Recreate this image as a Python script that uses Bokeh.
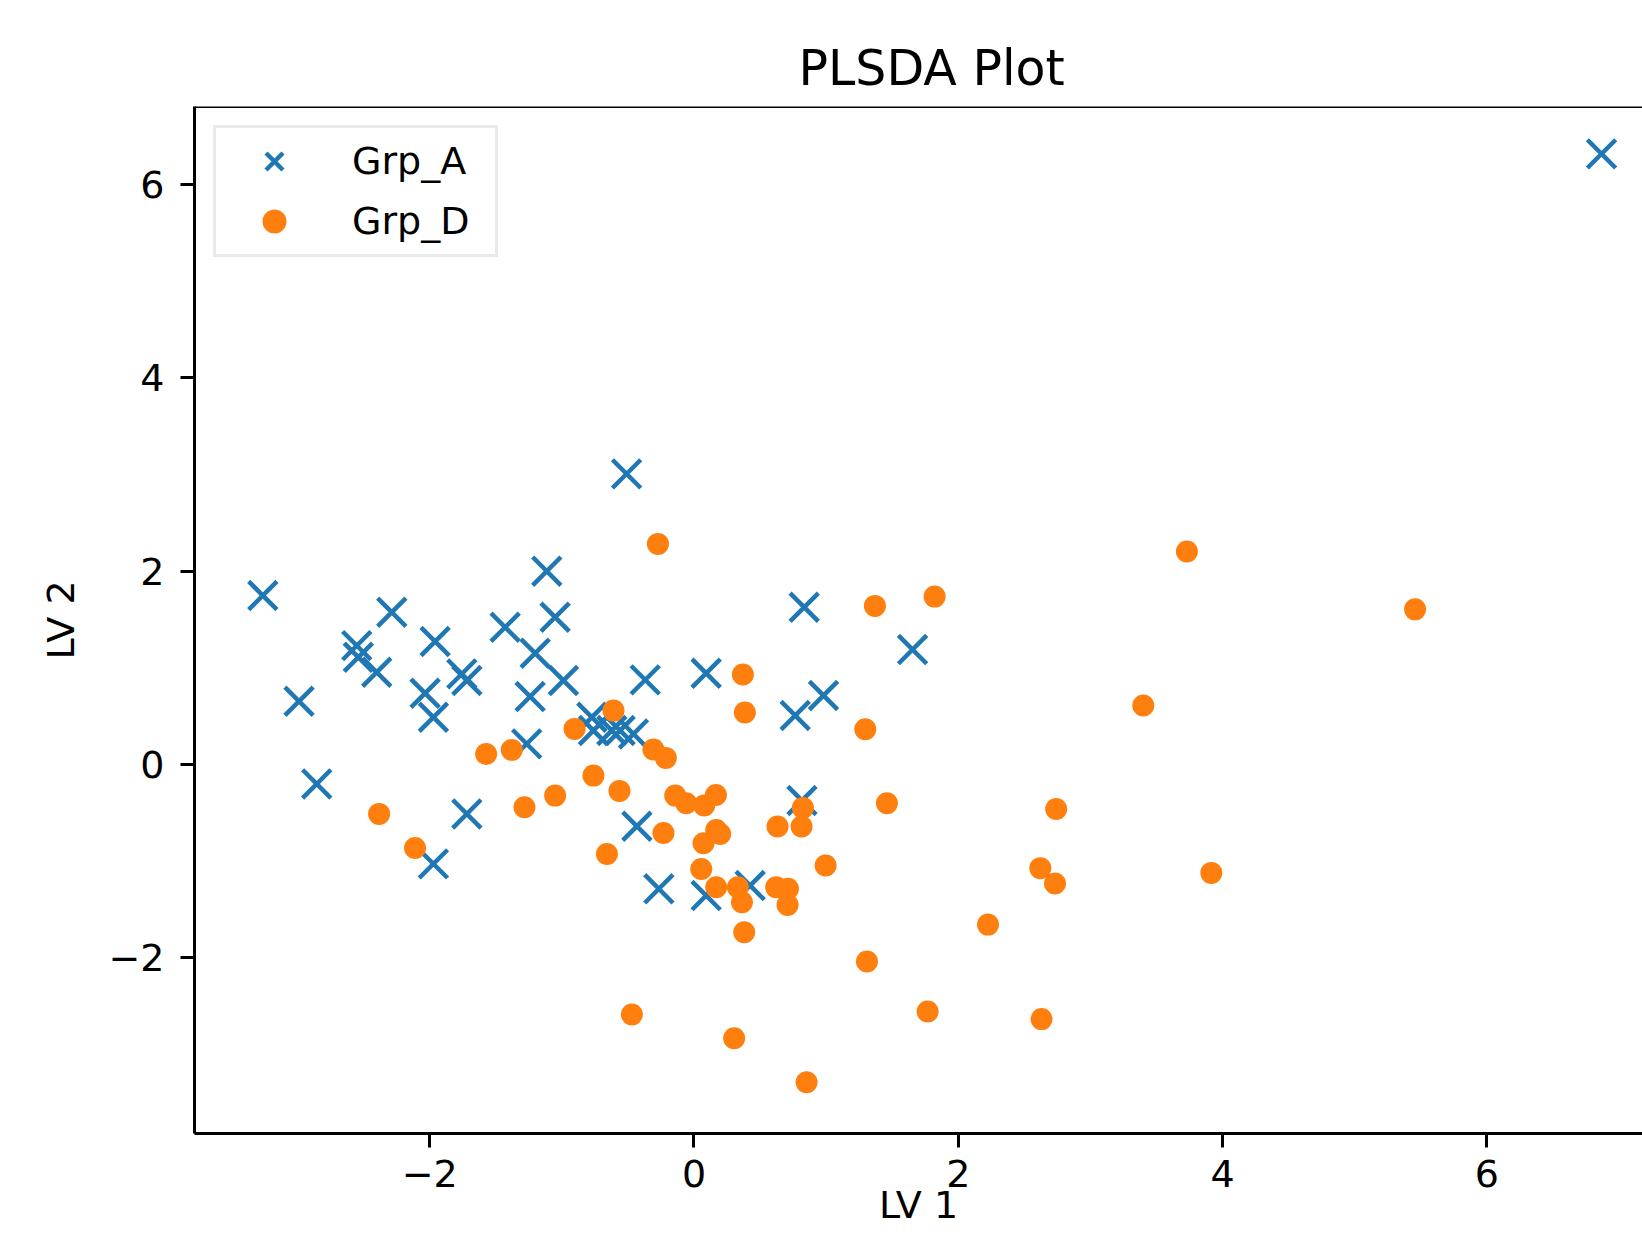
from bokeh.plotting import figure
from bokeh.models import Range1d, FixedTicker, Legend, LegendItem, Span
from bokeh.embed import file_html
from bokeh.resources import INLINE

# ---- data ----
group_names = ["Grp_A", "Grp_D"]

grp_a_x = [-0.51, -3.263, -1.114, -2.287, -1.051, -1.429, -2.552, -1.959, -1.202, -2.540,
           -2.401, -1.757, -1.719, -2.035, -1.972, -1.240, -0.988, -2.989, -1.266, -0.773,
           -0.761, -0.622, -0.559, -0.458, -2.855, -1.719, -1.972, 0.834, 1.654, -0.369,
           0.092, 0.980, 0.766, 0.817, -0.432, -0.266, 0.092, 0.425, 6.868]
grp_a_y = [3.006, 1.748, 2.000, 1.575, 1.523, 1.420, 1.230, 1.272, 1.151, 1.110,
           0.955, 0.938, 0.869, 0.738, 0.489, 0.703, 0.869, 0.655, 0.214, 0.489,
           0.352, 0.352, 0.352, 0.317, -0.200, -0.510, -1.027, 1.627, 1.189, 0.876,
           0.944, 0.714, 0.507, -0.372, -0.638, -1.285, -1.355, -1.251, 6.315]

grp_d_x = [-1.573, -1.379, -0.904, -0.609, -0.761, -1.051, -1.283, -2.383, -2.111, -0.659,
           -0.564, -0.273, 1.369, 1.821, 0.370, 0.385, 1.296, -0.307, -0.213, -0.142,
           -0.059, 0.077, 0.166, 1.460, 0.824, 0.632, 0.814, -0.231, 0.168, 0.198,
           0.072, 0.996, 0.055, 0.168, 0.332, 0.363, 0.622, 0.711, 0.708, 0.380,
           2.225, 1.309, -0.470, 0.304, 1.768, 0.852, 3.730, 5.457, 3.400, 2.741,
           2.621, 2.732, 3.915, 2.630]
grp_d_y = [0.110, 0.152, 0.369, 0.558, -0.114, -0.321, -0.441, -0.510, -0.862, -0.924,
           -0.272, 2.282, 1.641, 1.737, 0.931, 0.538, 0.365, 0.155, 0.069, -0.321,
           -0.400, -0.424, -0.314, -0.400, -0.448, -0.641, -0.641, -0.707, -0.676, -0.717,
           -0.814, -1.044, -1.079, -1.269, -1.269, -1.424, -1.269, -1.285, -1.451, -1.734,
           -1.655, -2.037, -2.585, -2.830, -2.554, -3.285, 2.203, 1.605, 0.610, -0.459,
           -1.071, -1.229, -1.120, -2.632]

x_ticks = [-2, 0, 2, 4, 6]
y_ticks = [-2, 0, 2, 4, 6]
tick_labels = {-2: "\u22122", 0: "0", 2: "2", 4: "4", 6: "6"}
title_text = "PLSDA Plot"
x_label = "LV 1"
y_label = "LV 2"

blue = "#1f77b4"
orange = "#ff7f0e"
font = "DejaVu Sans"

p = figure(width=1642, height=1242, output_backend="svg", toolbar_location=None,
           x_range=Range1d(-3.78, 7.178), y_range=Range1d(-3.815, 6.805),
           min_border_left=194, min_border_right=0, min_border_top=106, min_border_bottom=109)

p.background_fill_color = "white"
p.border_fill_color = "white"
p.outline_line_color = None
p.grid.visible = False

p.title.text = title_text
p.title.align = "left"
p.title.offset = 604
p.title.standoff = 20
p.title.text_font = font
p.title.text_font_size = "49px"
p.title.text_font_style = "normal"
p.title.text_color = "black"

for ax, ticks, lab in ((p.xaxis, x_ticks, x_label), (p.yaxis, y_ticks, y_label)):
    ax.ticker = FixedTicker(ticks=ticks)
    ax.major_label_overrides = tick_labels
    ax.minor_tick_line_color = None
    ax.major_tick_in = 0
    ax.major_tick_out = 14
    ax.major_tick_line_width = 3
    ax.major_tick_line_color = "black"
    ax.axis_line_width = 3
    ax.axis_line_color = "black"
    ax.major_label_text_font = font
    ax.major_label_text_font_size = "38px"
    ax.major_label_text_color = "black"
    ax.axis_label = lab
    ax.axis_label_text_font = font
    ax.axis_label_text_font_size = "38px"
    ax.axis_label_text_font_style = "normal"
    ax.axis_label_text_color = "black"

p.xaxis.major_label_standoff = 12
p.xaxis.axis_label_standoff = -7
p.yaxis.major_label_standoff = 16
p.yaxis.axis_label_standoff = 22

top_line = Span(location=p.y_range.end, dimension="width", line_color="black", line_width=3)
p.add_layout(top_line)

ra = p.scatter(grp_a_x, grp_a_y, marker="x", size=40, line_color=blue, line_width=4.5)
rd = p.scatter(grp_d_x, grp_d_y, marker="circle", size=22, fill_color=orange, line_color=None)

legend = Legend(items=[LegendItem(label=group_names[0], renderers=[ra]),
                       LegendItem(label=group_names[1], renderers=[rd])],
                location="top_left")
legend.margin = 19
legend.padding = 3
legend.spacing = 0
legend.glyph_height = 60
legend.glyph_width = 110
legend.label_height = 60
legend.label_width = 140
legend.label_standoff = 23
legend.label_text_font = font
legend.label_text_font_size = "38px"
legend.label_text_color = "black"
legend.border_line_color = "#d6d6d6"
legend.border_line_width = 3
legend.background_fill_color = "white"
legend.background_fill_alpha = 0.8
p.add_layout(legend)

open("out.html", "w").write(file_html(p, INLINE))
